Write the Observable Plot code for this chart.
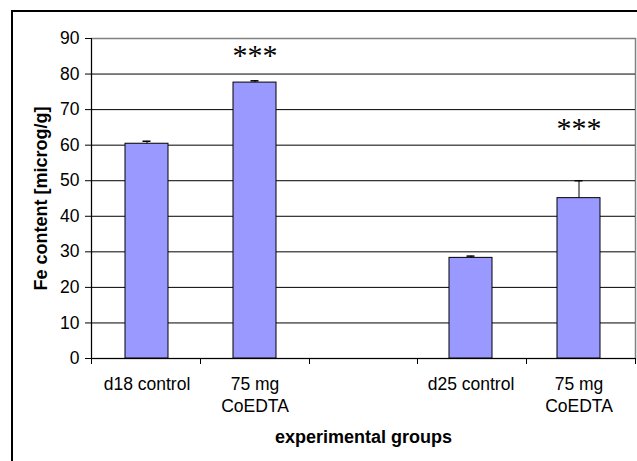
<!DOCTYPE html>
<html>
<head>
<meta charset="utf-8">
<script src="https://cdn.jsdelivr.net/npm/d3@7"></script>
<script src="https://cdn.jsdelivr.net/npm/@observablehq/plot@0.6"></script>
<style>
  html, body { margin: 0; padding: 0; background: #fff; }
  #wrap { position: relative; width: 637px; height: 461px; overflow: hidden; }
  #border { position: absolute; left: 11px; top: 10px; width: 700px; height: 500px;
            border-left: 2px solid #000; border-top: 2px solid #000; }
  #chart { position: absolute; left: 0; top: 0; }
</style>
</head>
<body>
<div id="wrap"><div id="border"></div><div id="chart"></div></div>
<script>
// ---- data ----
const groupKeys   = ["g1", "g2", "gap", "g3", "g4"];
const groupLabels = ["d18 control", "75 mg\nCoEDTA", "", "d25 control", "75 mg\nCoEDTA"];
const barKeys     = ["g1", "g2", "g3", "g4"];
const means       = [60.4, 77.6, 28.3, 45.1];
const errors      = [0.7, 0.5, 0.5, 4.9];
const signif      = ["", "***", "", "***"];
const signifLevel = [null, 85.8, null, 65.3];
const yTicks      = [0, 10, 20, 30, 40, 50, 60, 70, 80, 90];
const yLabel      = "Fe content [microg/g]";
const xLabel      = "experimental groups";

const labelOf = Object.fromEntries(groupKeys.map((k, i) => [k, groupLabels[i]]));
const bars = barKeys.map((k, i) => ({key: k, mean: means[i], err: errors[i], top: means[i] + errors[i]}));
const stars = barKeys.map((k, i) => ({key: k, s: signif[i], lvl: signifLevel[i]})).filter(d => d.s);

const W = 637, H = 461;
const mL = 91, mR = 2, mT = 38, mB = 103;
const FONT = "Arial, 'Liberation Sans', sans-serif";

// custom mark: left axis line + x ticks at category boundaries
function frameTicks(index, scales, values, dim) {
  const g = d3.create("svg:g");
  const x0 = dim.marginLeft, x1 = dim.width - dim.marginRight;
  const yb = dim.height - dim.marginBottom, yt = dim.marginTop;
  const n = groupKeys.length;
  const step = (x1 - x0) / n;
  for (let i = 0; i <= n; i++) {
    const xx = Math.round(x0 + i * step) + 0.5;
    g.append("line").attr("x1", xx).attr("x2", xx).attr("y1", yb).attr("y2", yb + 6)
      .attr("stroke", "#000").attr("stroke-width", 1);
  }
  g.append("line").attr("x1", x0 + 0.5).attr("x2", x0 + 0.5).attr("y1", yt).attr("y2", yb + 0.5)
    .attr("stroke", "#000").attr("stroke-width", 1);
  return g.node();
}

const chart = Plot.plot({
  width: W, height: H,
  marginLeft: mL, marginRight: mR, marginTop: mT, marginBottom: mB,
  style: {fontFamily: FONT, fontSize: "17px", color: "#000", background: "transparent"},
  x: {domain: groupKeys, paddingInner: 0.6, paddingOuter: 0.3, align: 0.5},
  y: {domain: [0, 90]},
  marks: [
    Plot.frame({stroke: "#808080", strokeWidth: 1.5}),
    Plot.ruleY(yTicks.filter(v => v > 0 && v < 90), {stroke: "#000", strokeWidth: 1}),
    Plot.ruleY([0], {stroke: "#000", strokeWidth: 1}),
    Plot.barY(bars, {x: "key", y: "mean", fill: "#9999FF", stroke: "#000", strokeWidth: 1}),
    Plot.ruleX(bars, {x: "key", y1: "mean", y2: "top", stroke: "#000", strokeWidth: 1}),
    Plot.tickY(bars, {x: "key", y: "top", stroke: "#000", strokeWidth: 1.5, insetLeft: 17.5, insetRight: 17.5}),
    Plot.text(stars, {x: "key", y: "lvl", text: "s", fontFamily: "'Liberation Serif', 'Times New Roman', serif",
      fontSize: 30, lineAnchor: "middle", dy: 2}),
    Plot.axisY({ticks: yTicks, tickSize: 6, tickPadding: 6, label: null, fontSize: 17.5, fontFamily: FONT}),
    Plot.axisX({tickSize: 0, tickPadding: 16, tickFormat: k => labelOf[k], label: null, lineHeight: 1.25, fontSize: 17.5, fontFamily: FONT}),
    frameTicks,
    Plot.text([yLabel], {frameAnchor: "left", textAnchor: "middle", lineAnchor: "middle", rotate: -90, dx: -50,
      fontWeight: "bold", fontSize: 18, fontFamily: FONT}),
    Plot.text([xLabel], {frameAnchor: "bottom", textAnchor: "middle", lineAnchor: "middle", dy: 79,
      fontWeight: "bold", fontSize: 18, fontFamily: FONT})
  ]
});
document.getElementById("chart").appendChild(chart);
</script>
</body>
</html>
